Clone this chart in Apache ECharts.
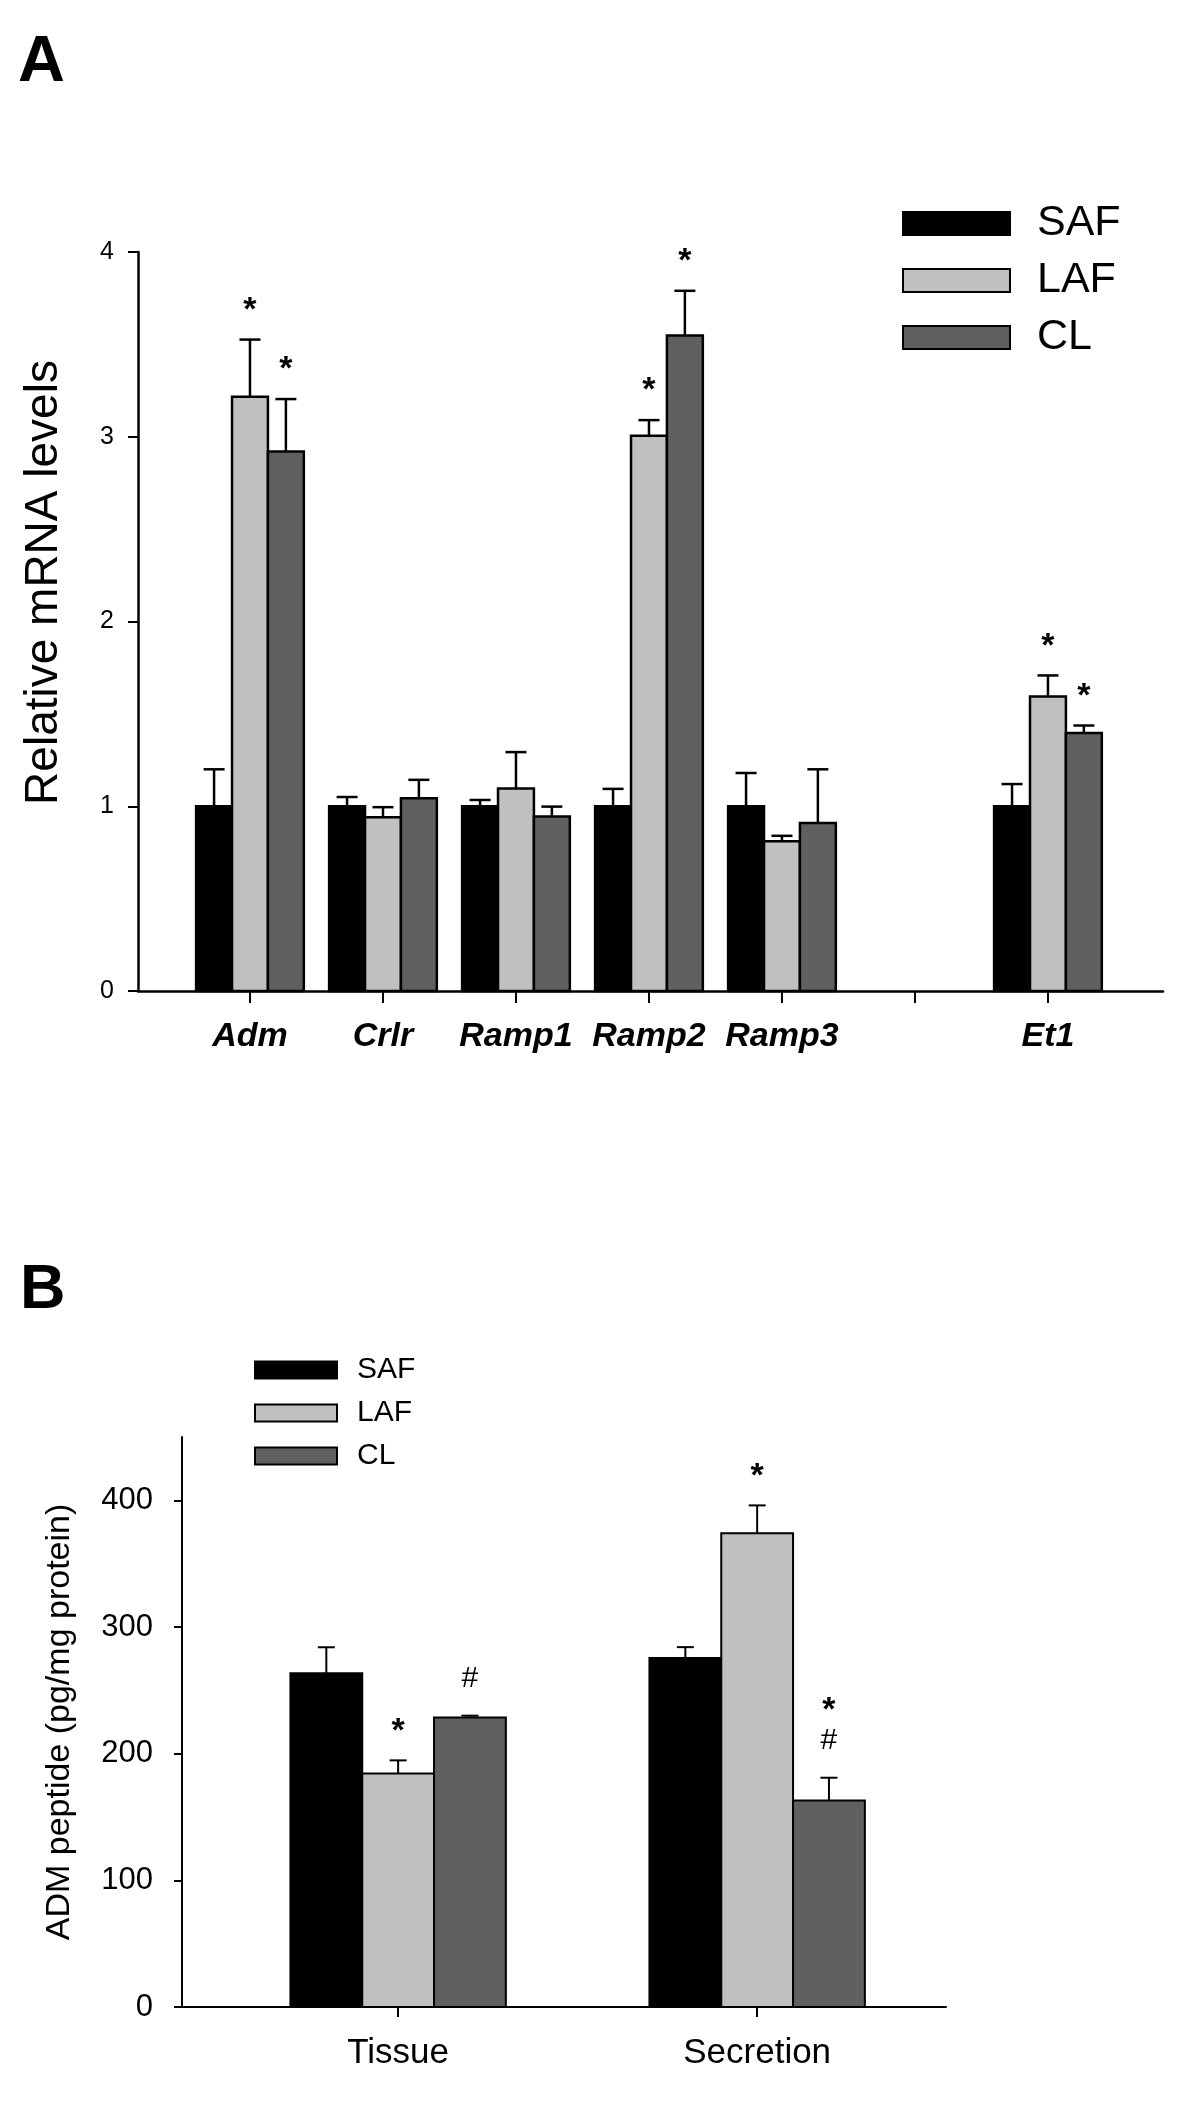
<!DOCTYPE html>
<html><head><meta charset="utf-8">
<script src="https://cdn.jsdelivr.net/npm/echarts@6/dist/echarts.min.js"></script>
<style>html,body{margin:0;padding:0;background:#fff}#c{width:1200px;height:2101px}</style>
</head><body><div id="c"></div>
<script>
// ---------- Panel A data ----------
const genesA = ['Adm', 'Crlr', 'Ramp1', 'Ramp2', 'Ramp3', '', 'Et1'];
const posA = [1, 2, 3, 4, 5, 6, 7];
const safA = [1.00, 1.00, 1.00, 1.00, 1.00, null, 1.00];
const safErrA = [0.20, 0.05, 0.034, 0.094, 0.18, null, 0.12];
const lafA = [3.216, 0.94, 1.096, 3.005, 0.81, null, 1.594];
const lafErrA = [0.31, 0.055, 0.197, 0.085, 0.03, null, 0.114];
const clA = [2.92, 1.043, 0.944, 3.548, 0.91, null, 1.397];
const clErrA = [0.284, 0.10, 0.054, 0.242, 0.29, null, 0.04];
const sigLafA = ['*', '', '', '*', '', '', '*'];
const sigClA = ['*', '', '', '*', '', '', '*'];
const ticksA = [0, 1, 2, 3, 4];

// ---------- Panel B data ----------
const groupsB = ['Tissue', 'Secretion'];
const posB = [1, 2];
const safB = [263.5, 275.6];
const safErrB = [20.5, 8.5];
const lafB = [184.4, 374];
const lafErrB = [10.3, 22];
const clB = [228.5, 163];
const clErrB = [1.5, 18];
const sigLafB = ['*', '*'];
const sigClB = ['#', '*\n#'];
const ticksB = [0, 100, 200, 300, 400];

const seriesNames = ['SAF', 'LAF', 'CL'];
const colors = ['#000000', '#c0c0c0', '#606060'];
const FONT = '"Liberation Sans", Arial, sans-serif';

function makeSeries(name, color, positions, vals, errs, sigs, offset, bw, capPx, lw, xi, yi) {
  const data = [];
  const sigList = [];
  vals.forEach((v, i) => {
    if (v == null) return;
    data.push([positions[i], v, errs[i]]);
    sigList.push(sigs ? sigs[i] : '');
  });
  return {
    type: 'custom', name, xAxisIndex: xi, yAxisIndex: yi,
    itemStyle: { color, borderColor: '#000', borderWidth: lw },
    data, encode: { x: 0, y: 1 }, clip: false, z: 2,
    renderItem(params, api) {
      const x = api.value(0) + offset, v = api.value(1), e = api.value(2);
      const p0 = api.coord([x - bw / 2, 0]);
      const p1 = api.coord([x + bw / 2, v]);
      const top = api.coord([x, v + e]);
      const cx = (p0[0] + p1[0]) / 2;
      const children = [
        { type: 'line', shape: { x1: cx, y1: p1[1], x2: cx, y2: top[1] }, style: { stroke: '#000', lineWidth: lw } },
        { type: 'line', shape: { x1: cx - capPx / 2, y1: top[1], x2: cx + capPx / 2, y2: top[1] }, style: { stroke: '#000', lineWidth: lw } },
        { type: 'rect', shape: { x: p0[0], y: p1[1], width: p1[0] - p0[0], height: p0[1] - p1[1] }, style: { fill: color, stroke: '#000', lineWidth: lw } }
      ];
      const s = sigList[params.dataIndex];
      if (s) {
        const lines = s.split('\n').reverse();
        lines.forEach((ch, k) => {
          const isStar = ch === '*';
          const cy = top[1] - 37 - k * 38 + (isStar ? 8 : 0);
          children.push({
            type: 'text',
            style: {
              text: ch, x: cx, y: cy, align: 'center', verticalAlign: 'middle',
              font: (isStar ? 'bold 34px ' : 'normal 30px ') + FONT, fill: '#000'
            }
          });
        });
      }
      return { type: 'group', children };
    }
  };
}

const bwA = 0.27, bwB = 0.20;
const series = [];
const valsA = [safA, lafA, clA], errsA = [safErrA, lafErrA, clErrA], sigsA = [null, sigLafA, sigClA];
const valsB = [safB, lafB, clB], errsB = [safErrB, lafErrB, clErrB], sigsB = [null, sigLafB, sigClB];
for (let k = 0; k < 3; k++) {
  series.push(makeSeries(seriesNames[k], colors[k], posA, valsA[k], errsA[k], sigsA[k], (k - 1) * bwA, bwA, 21, 2.5, 0, 0));
}
for (let k = 0; k < 3; k++) {
  series.push(makeSeries(seriesNames[k], colors[k], posB, valsB[k], errsB[k], sigsB[k], (k - 1) * bwB, bwB, 17, 2, 1, 1));
}

const legendData = seriesNames.map((n, k) => ({ name: n, itemStyle: { color: colors[k], borderColor: '#000', borderWidth: 2 } }));

const chart = echarts.init(document.getElementById('c'), null, { renderer: 'canvas' });
chart.setOption({
  animation: false,
  backgroundColor: '#fff',
  textStyle: { fontFamily: FONT },
  graphic: [
    { type: 'text', left: 18, top: 31, style: { text: 'A', font: 'bold 65px ' + FONT, fill: '#000' } },
    { type: 'text', left: 20, top: 1259, style: { text: 'B', font: 'bold 63px ' + FONT, fill: '#000' } }
  ],
  legend: [
    {
      orient: 'vertical', left: 902, top: 202, itemWidth: 107, itemHeight: 23, itemGap: 14, padding: 0,
      icon: 'rect', selectedMode: false, data: legendData,
      textStyle: { fontSize: 43, lineHeight: 43, color: '#000', fontFamily: FONT, padding: [0, 0, 0, 22] }
    },
    {
      orient: 'vertical', left: 254, top: 1355, itemWidth: 82, itemHeight: 17, itemGap: 13, padding: 0,
      icon: 'rect', selectedMode: false, data: legendData,
      textStyle: { fontSize: 30, lineHeight: 30, color: '#000', fontFamily: FONT, padding: [0, 0, 0, 15] }
    }
  ],
  grid: [
    { left: 138, right: 37, top: 252, height: 739 },
    { left: 182, width: 764, top: 1437, height: 570 }
  ],
  xAxis: [
    {
      type: 'value', gridIndex: 0, min: 0.158, max: 7.865,
      axisLine: { lineStyle: { color: '#000', width: 2.5 } },
      axisTick: { length: 12, lineStyle: { color: '#000', width: 2 }, customValues: posA },
      axisLabel: {
        customValues: posA.filter((p, i) => genesA[i] !== ''), margin: 29,
        formatter: v => genesA[Math.round(v) - 1],
        fontSize: 34, fontWeight: 'bold', fontStyle: 'italic', color: '#000', fontFamily: FONT
      },
      splitLine: { show: false }
    },
    {
      type: 'value', gridIndex: 1, min: 0.398, max: 2.526,
      axisLine: { lineStyle: { color: '#000', width: 2 } },
      axisTick: { length: 10, lineStyle: { color: '#000', width: 2 }, customValues: posB },
      axisLabel: {
        customValues: posB, margin: 29,
        formatter: v => groupsB[Math.round(v) - 1],
        fontSize: 35, color: '#000', fontFamily: FONT
      },
      splitLine: { show: false }
    }
  ],
  yAxis: [
    {
      type: 'value', gridIndex: 0, min: 0, max: 4, interval: 1,
      name: 'Relative mRNA levels', nameLocation: 'middle', nameGap: 71,
      nameTextStyle: { fontSize: 46, color: '#000', fontFamily: FONT, padding: [0, 0, 0, 78] },
      axisLine: { show: true, lineStyle: { color: '#000', width: 2.5 } },
      axisTick: { show: true, length: 10, lineStyle: { color: '#000', width: 2 }, customValues: ticksA },
      axisLabel: { customValues: ticksA, margin: 24, fontSize: 25, color: '#000', fontFamily: FONT },
      splitLine: { show: false }
    },
    {
      type: 'value', gridIndex: 1, min: 0, max: 450,
      name: 'ADM peptide (pg/mg protein)', nameLocation: 'middle', nameGap: 105,
      nameTextStyle: { fontSize: 34, color: '#000', fontFamily: FONT },
      axisLine: { show: true, lineStyle: { color: '#000', width: 2 } },
      axisTick: { show: true, length: 8, lineStyle: { color: '#000', width: 2 }, customValues: ticksB },
      axisLabel: { customValues: ticksB, margin: 29, fontSize: 31, color: '#000', fontFamily: FONT },
      splitLine: { show: false }
    }
  ],
  series
});
</script>
</body></html>
